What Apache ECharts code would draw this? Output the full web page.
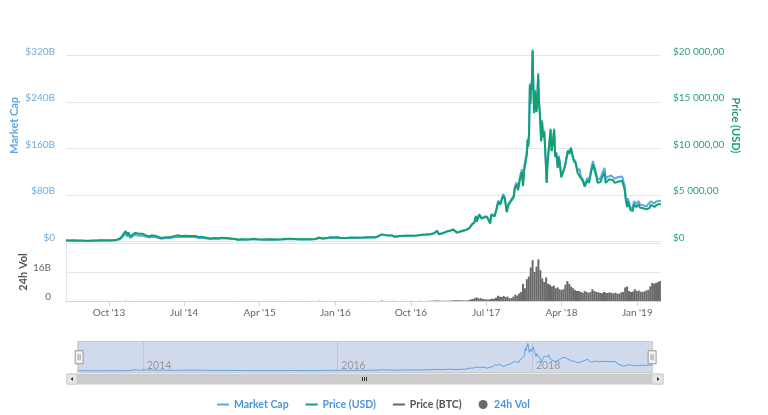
<!DOCTYPE html>
<html>
<head>
<meta charset="utf-8">
<script src="https://cdn.jsdelivr.net/npm/echarts@6/dist/echarts.min.js"></script>
<style>
  html, body { margin: 0; padding: 0; background: #ffffff; }
  #chart { width: 768px; height: 415px; }
</style>
</head>
<body>
<div id="chart"></div>
<script>
// ---- Data ----
const dates = [
 '2013-04-28','2013-05-12','2013-05-26','2013-06-09','2013-06-23','2013-07-06','2013-07-20','2013-08-04','2013-08-18','2013-09-01',
 '2013-09-15','2013-10-01','2013-10-15','2013-10-29','2013-11-10','2013-11-18','2013-11-24','2013-11-30','2013-12-04','2013-12-07',
 '2013-12-10','2013-12-18','2013-12-26','2014-01-05','2014-01-18','2014-02-01','2014-02-10','2014-02-25','2014-03-05','2014-03-20',
 '2014-04-02','2014-04-10','2014-04-25','2014-05-10','2014-05-25','2014-06-05','2014-06-20','2014-07-05','2014-07-25','2014-08-10',
 '2014-08-20','2014-09-05','2014-09-20','2014-10-05','2014-10-20','2014-11-05','2014-11-15','2014-12-01','2014-12-20','2015-01-05',
 '2015-01-14','2015-01-25','2015-02-10','2015-02-25','2015-03-10','2015-03-25','2015-04-15','2015-05-05','2015-06-01','2015-06-20',
 '2015-07-10','2015-07-25','2015-08-20','2015-09-10','2015-10-01','2015-10-20','2015-11-04','2015-11-12','2015-12-01','2015-12-15',
 '2015-12-25','2016-01-10','2016-01-20','2016-02-10','2016-02-25','2016-03-15','2016-04-10','2016-05-01','2016-05-25','2016-06-05',
 '2016-06-17','2016-06-23','2016-07-05','2016-07-25','2016-08-02','2016-08-20','2016-09-10','2016-10-05','2016-10-25','2016-11-10',
 '2016-11-25','2016-12-10','2016-12-25','2017-01-04','2017-01-11','2017-01-25','2017-02-08','2017-02-23','2017-03-03','2017-03-10',
 '2017-03-18','2017-03-25','2017-04-05','2017-04-20','2017-05-01','2017-05-10','2017-05-20','2017-05-25','2017-05-28','2017-06-06',
 '2017-06-11','2017-06-15','2017-06-25','2017-07-05','2017-07-16','2017-07-20','2017-08-01','2017-08-08','2017-08-14','2017-08-22',
 '2017-09-01','2017-09-07','2017-09-14','2017-09-20','2017-09-30','2017-10-10','2017-10-13','2017-10-20','2017-10-25','2017-11-01',
 '2017-11-08','2017-11-12','2017-11-17','2017-11-26','2017-11-29','2017-12-01','2017-12-04','2017-12-07','2017-12-09','2017-12-11',
 '2017-12-13','2017-12-15','2017-12-17','2017-12-19','2017-12-22','2017-12-24','2017-12-26','2017-12-29','2017-12-31','2018-01-03',
 '2018-01-06','2018-01-09','2018-01-12','2018-01-15','2018-01-17','2018-01-20','2018-01-24','2018-01-28','2018-01-31','2018-02-02',
 '2018-02-06','2018-02-09','2018-02-13','2018-02-17','2018-02-20','2018-02-24','2018-02-28','2018-03-05','2018-03-09','2018-03-13',
 '2018-03-18','2018-03-21','2018-03-25','2018-03-31','2018-04-06','2018-04-12','2018-04-17','2018-04-24','2018-04-29','2018-05-05',
 '2018-05-10','2018-05-15','2018-05-22','2018-05-29','2018-06-05','2018-06-10','2018-06-17','2018-06-24','2018-06-29','2018-07-04',
 '2018-07-10','2018-07-17','2018-07-24','2018-07-30','2018-08-05','2018-08-10','2018-08-14','2018-08-20','2018-08-28','2018-09-04',
 '2018-09-08','2018-09-14','2018-09-21','2018-09-28','2018-10-05','2018-10-11','2018-10-18','2018-10-25','2018-11-01','2018-11-07',
 '2018-11-13','2018-11-16','2018-11-20','2018-11-25','2018-11-28','2018-12-02','2018-12-07','2018-12-11','2018-12-15','2018-12-20',
 '2018-12-24','2018-12-28','2019-01-06','2019-01-10','2019-01-16','2019-01-22','2019-01-28','2019-02-03','2019-02-08','2019-02-15',
 '2019-02-19','2019-02-24','2019-02-26','2019-03-04','2019-03-10','2019-03-16','2019-03-22','2019-03-28'
];
const priceUSD = [
 135,115,132,108,105,70,90,105,100,140,
 128,124,142,198,325,600,790,1130,1151,700,
 990,520,760,930,830,830,690,540,670,590,
 450,380,470,450,580,660,595,630,600,590,
 480,480,410,320,385,340,415,375,320,275,
 180,255,220,240,295,250,220,240,225,245,
 285,290,235,240,238,270,430,330,365,460,
 425,450,380,375,425,415,420,450,450,580,
 765,590,670,655,520,580,625,610,655,715,
 740,775,895,1150,780,895,1060,1180,1280,1120,
 950,935,1130,1240,1420,1800,2040,2700,2130,2860,
 3000,2450,2600,2600,1930,2850,2720,3450,4250,3980,
 4920,4600,3150,3900,4350,4800,5650,6100,5500,6700,
 7450,5950,7800,9300,10900,10200,11600,16800,14800,16700,
 16300,17800,20500,17500,13800,14600,16100,14400,13900,15400,
 17900,14900,13800,13700,10750,12900,11200,11800,10200,8900,
 6300,8400,8600,11000,12000,9700,10500,12000,9100,9500,
 7900,9100,8600,6900,6700,7900,8100,9700,9400,10000,
 9300,8700,8400,7400,7600,6800,6500,5900,5900,6600,
 6300,7400,8300,8200,7000,6300,6100,6400,7000,7400,
 6300,6500,6700,6600,6600,6300,6500,6450,6400,6500,
 6350,5600,4500,3700,4300,4150,3400,3500,3250,4000,
 4100,3700,4000,3650,3650,3580,3450,3450,3650,3620,
 3950,4100,3820,3720,3930,4000,3990,4010
];
const marketCapB = [
 1.50,1.28,1.47,1.21,1.18,0.79,1.02,1.20,1.15,1.61,
 1.48,1.44,1.66,2.33,3.85,7.13,9.42,13.51,13.79,8.40,
 11.89,6.26,9.17,11.26,10.08,10.12,8.43,6.64,8.25,7.29,
 5.58,4.72,5.86,5.64,7.30,8.34,7.56,8.03,7.69,7.59,
 6.19,6.22,5.34,4.18,5.05,4.48,5.49,4.98,4.27,3.69,
 2.42,3.44,2.98,3.27,4.04,3.44,3.04,3.34,3.15,3.45,
 4.03,4.12,3.37,3.46,3.45,3.94,6.29,4.84,5.38,6.81,
 6.30,6.70,5.67,5.62,6.39,6.28,6.39,6.88,6.92,8.94,
 11.81,9.12,10.42,10.25,8.15,9.12,9.87,9.69,10.46,11.45,
 11.89,12.49,14.46,18.60,12.62,14.50,17.20,19.17,20.82,18.23,
 15.48,15.25,18.45,20.28,23.26,29.52,33.49,44.35,35.00,47.04,
 49.37,40.33,42.84,42.89,31.87,47.09,44.98,57.10,70.37,65.95,
 81.62,76.35,52.32,64.81,72.35,79.92,94.10,101.67,91.73,111.84,
 124.46,99.43,130.41,155.66,176.6,165.2,187.9,272.2,239.8,270.5,
 264.1,288.4,330.5,283.5,223.6,236.5,260.8,233.3,225.2,249.5,
 290.0,241.4,223.6,221.9,174.2,209.0,181.4,191.2,165.2,144.2,
 102.1,136.1,139.3,178.2,194.4,157.1,170.1,194.4,147.4,153.9,
 128.0,147.4,139.3,111.8,108.5,128.0,131.2,157.1,152.3,162.0,
 151.6,141.8,137.8,121.4,125.4,112.2,107.3,97.4,97.4,109.6,
 104.6,123.6,138.6,137.8,117.6,106.5,103.1,108.8,119.0,126.5,
 107.7,111.2,114.6,113.5,113.5,108.4,111.8,110.9,110.1,111.8,
 109.2,96.3,77.9,64.0,74.4,71.8,59.0,60.7,56.4,69.4,
 71.1,64.2,69.6,63.5,63.5,62.3,60.0,60.1,63.6,63.1,
 68.9,71.6,66.7,65.0,68.7,69.9,69.8,70.2
];
const volDates = [
 '2013-05-01','2013-07-01','2013-09-01','2013-11-01','2013-12-01','2014-01-01','2014-03-01','2014-06-01','2014-09-01','2014-12-01',
 '2015-01-15','2015-04-01','2015-07-01','2015-10-01','2015-11-04','2016-01-01','2016-04-01','2016-06-17','2016-08-01','2016-10-01',
 '2016-11-01','2016-12-04','2016-12-11','2016-12-18','2016-12-25','2017-01-01','2017-01-08','2017-01-15','2017-01-22','2017-01-29',
 '2017-02-05','2017-02-12','2017-02-19','2017-02-26','2017-03-05','2017-03-12','2017-03-19','2017-03-26','2017-04-02','2017-04-09',
 '2017-04-16','2017-04-23','2017-04-30','2017-05-07','2017-05-14','2017-05-21','2017-05-28','2017-06-04','2017-06-11','2017-06-18',
 '2017-06-25','2017-07-02','2017-07-09','2017-07-16','2017-07-23','2017-07-30','2017-08-06','2017-08-13','2017-08-20','2017-08-27',
 '2017-09-03','2017-09-10','2017-09-17','2017-09-24','2017-10-01','2017-10-08','2017-10-15','2017-10-22','2017-10-29','2017-11-05',
 '2017-11-12','2017-11-19','2017-11-26','2017-12-03','2017-12-10','2017-12-17','2017-12-24','2017-12-31','2018-01-07','2018-01-14',
 '2018-01-21','2018-01-28','2018-02-04','2018-02-11','2018-02-18','2018-02-25','2018-03-04','2018-03-11','2018-03-18','2018-03-25',
 '2018-04-01','2018-04-08','2018-04-15','2018-04-22','2018-04-29','2018-05-06','2018-05-13','2018-05-20','2018-05-27','2018-06-03',
 '2018-06-10','2018-06-17','2018-06-24','2018-07-01','2018-07-08','2018-07-15','2018-07-22','2018-07-29','2018-08-05','2018-08-12',
 '2018-08-19','2018-08-26','2018-09-02','2018-09-09','2018-09-16','2018-09-23','2018-09-30','2018-10-07','2018-10-14','2018-10-21',
 '2018-10-28','2018-11-04','2018-11-11','2018-11-18','2018-11-25','2018-12-02','2018-12-09','2018-12-16','2018-12-23','2018-12-30',
 '2019-01-06','2019-01-13','2019-01-20','2019-01-27','2019-02-03','2019-02-10','2019-02-17','2019-02-24','2019-03-03','2019-03-10',
 '2019-03-17','2019-03-24'
];
const volumeB = [
 0.02,0.01,0.01,0.05,0.15,0.05,0.03,0.02,0.02,0.02,
 0.05,0.02,0.03,0.03,0.15,0.05,0.05,0.3,0.1,0.07,
 0.1,0.12,0.1,0.15,0.2,0.35,0.3,0.15,0.12,0.1,
 0.15,0.13,0.2,0.25,0.4,0.35,0.5,0.3,0.35,0.3,
 0.25,0.3,0.45,0.9,1.1,1.6,2.0,1.4,1.6,1.2,
 1.0,0.9,0.8,1.0,1.3,1.2,1.8,2.9,2.4,2.2,
 2.8,2.2,2.4,1.5,1.6,2.4,3.5,3.0,4.2,5.0,
 9.5,7.0,12.0,13.5,18.5,22.5,16.0,19.0,23.0,17.0,
 12.5,10.5,13.0,9.5,9.0,8.0,8.5,7.0,7.5,6.5,
 6.0,6.5,9.0,11.0,9.5,8.0,7.0,6.0,5.5,5.5,
 5.0,4.5,5.5,5.0,4.5,5.0,6.5,5.5,5.0,4.8,
 4.5,4.3,5.0,4.6,4.4,4.8,4.4,4.2,4.6,4.0,
 4.1,4.8,5.0,7.5,8.0,5.5,5.0,5.2,6.5,5.5,
 5.8,5.2,5.0,5.3,5.8,6.2,8.0,10.0,9.5,10.0,
 10.5,11.0
];
const xTickDates = ['2013-10-01','2014-07-01','2015-04-01','2016-01-01','2016-10-01','2017-07-01','2018-04-01','2019-01-01'];
const xTickLabels = ["Oct '13","Jul '14","Apr '15","Jan '16","Oct '16","Jul '17","Apr '18","Jan '19"];
const navTickDates = ['2014-01-01','2016-01-01','2018-01-01'];
const navTickLabels = ['2014','2016','2018'];
const legendNames = ['Market Cap','Price (USD)','Price (BTC)','24h Vol'];
const xStart = '2013-04-28';
const xEnd = '2019-03-28';

// ---- Helpers ----
function ts(s) { const p = s.split('-').map(Number); return Date.UTC(p[0], p[1] - 1, p[2]); }
function pairs(d, v) { return d.map((x, i) => [ts(x), v[i]]); }
const xTickTs = xTickDates.map(ts);
const navTickTs = navTickDates.map(ts);
const xLabelMap = {}; xTickTs.forEach((t, i) => { xLabelMap[t] = xTickLabels[i]; });
const navLabelMap = {}; navTickTs.forEach((t, i) => { navLabelMap[t] = navTickLabels[i]; });
function usd(v) {
  if (v === 0) return '$0';
  const s = String(Math.round(v)).replace(/\B(?=(\d{3})+(?!\d))/g, ' ');
  return '$' + s + ',00';
}

const BLUE = '#5ea8e8';
const GREEN = '#12a073';
const GRAY_BAR = '#6a6a6a';
const FONT = 'Lato';

const chart = echarts.init(document.getElementById('chart'), null, { renderer: 'canvas' });
const linePath = 'path://M0,0 H12 V2 H0 Z';

chart.setOption({
  animation: false,
  textStyle: { fontFamily: FONT },
  grid: [
    { left: 66, right: 107, top: 55.5, height: 186 },
    { left: 66, right: 107, top: 243, height: 58 },
    { left: 77, right: 116, top: 341, height: 31.5, show: true, backgroundColor: '#d1daed', borderWidth: 0 }
  ],
  xAxis: [
    { type: 'value', gridIndex: 0, min: ts(xStart), max: ts(xEnd), show: false, splitLine: { show: false } },
    { type: 'value', gridIndex: 1, min: ts(xStart), max: ts(xEnd),
      axisLine: { show: true, lineStyle: { color: '#ccd6eb' } },
      axisTick: { show: true, customValues: xTickTs, length: 5, lineStyle: { color: '#ccd6eb' } },
      axisLabel: { customValues: xTickTs, formatter: v => xLabelMap[v] || '', color: '#666', fontSize: 10, margin: 7, fontFamily: FONT },
      splitLine: { show: false } },
    { type: 'value', gridIndex: 2, min: ts(xStart), max: ts(xEnd),
      axisLine: { show: false },
      axisTick: { show: false, customValues: navTickTs },
      axisLabel: { customValues: navTickTs, inside: true, formatter: v => navLabelMap[v] || '', color: '#999', fontSize: 10.5,
                   align: 'left', padding: [0, 0, 0, 4], margin: 1, fontFamily: FONT },
      splitLine: { show: true, lineStyle: { color: '#bcc6da', width: 1 } } }
  ],
  yAxis: [
    { type: 'value', gridIndex: 0, position: 'left', min: 0, max: 320, interval: 80,
      name: 'Market Cap', nameLocation: 'middle', nameRotate: 90, nameGap: 46, nameMoveOverlap: false,
      nameTextStyle: { color: '#5aa6e6', fontWeight: 'bold', fontSize: 11, fontFamily: FONT, padding: [0, 0, 0, 46] },
      axisLine: { show: false }, axisTick: { show: false },
      axisLabel: { formatter: v => v === 0 ? '$0' : '$' + v + 'B', color: '#6aaee8', fontSize: 10, margin: 11,
                   verticalAlign: 'bottom', lineHeight: 8, fontFamily: FONT },
      splitLine: { lineStyle: { color: '#e6e6e6' } } },
    { type: 'value', gridIndex: 0, position: 'right', min: 0, max: 20000, interval: 5000,
      name: 'Price (USD)', nameLocation: 'middle', nameRotate: -90, nameGap: 69, nameMoveOverlap: false,
      nameTextStyle: { color: '#16a074', fontWeight: 'bold', fontSize: 11, fontFamily: FONT, padding: [0, 46, 0, 0] },
      axisLine: { show: false }, axisTick: { show: false },
      axisLabel: { formatter: usd, color: '#22a57b', fontSize: 10, margin: 12, verticalAlign: 'bottom', lineHeight: 8, fontFamily: FONT },
      splitLine: { show: false } },
    { type: 'value', gridIndex: 1, position: 'left', min: 0, max: 32, interval: 16,
      name: '24h Vol', nameLocation: 'middle', nameRotate: 90, nameGap: 37, nameMoveOverlap: false,
      nameTextStyle: { color: '#555', fontWeight: 'bold', fontSize: 11, fontFamily: FONT },
      axisLine: { show: true, lineStyle: { color: '#e6e6e6' } }, axisTick: { show: false },
      axisLabel: { formatter: v => v === 0 ? '0' : v + 'B', showMaxLabel: false, color: '#666', fontSize: 10, margin: 15,
                   verticalAlign: 'bottom', lineHeight: 8, fontFamily: FONT },
      splitLine: { lineStyle: { color: '#e6e6e6' } } },
    { type: 'value', gridIndex: 2, min: -20, max: 360, show: false, splitLine: { show: false } }
  ],
  dataZoom: [
    { type: 'slider', xAxisIndex: 2, filterMode: 'none', start: 0, end: 100,
      left: 77, right: 116, top: 341, height: 31.5,
      showDataShadow: false, showDetail: false, brushSelect: false, moveHandleSize: 0,
      backgroundColor: 'rgba(0,0,0,0)', fillerColor: 'rgba(0,0,0,0)', borderColor: '#cccccc',
      handleIcon: 'path://M0,0 H8 V13 H0 Z M3,3.5 V9.5 M5,3.5 V9.5', handleSize: 13,
      handleStyle: { color: '#f2f2f2', borderColor: '#999999', borderWidth: 1 },
      moveHandleStyle: { opacity: 0 },
      emphasis: { handleStyle: { color: '#f2f2f2', borderColor: '#999999' } } }
  ],
  legend: {
    left: 212, top: 394, itemWidth: 12, itemHeight: 9, itemGap: 17,
    textStyle: { fontFamily: FONT, fontSize: 10.5, fontWeight: 'bold', color: '#4d94db' },
    data: [
      { name: legendNames[0], icon: linePath, itemStyle: { color: BLUE } },
      { name: legendNames[1], icon: linePath, itemStyle: { color: GREEN } },
      { name: legendNames[2], icon: linePath, itemStyle: { color: '#666' }, textStyle: { color: '#555' } },
      { name: legendNames[3], icon: 'circle', itemStyle: { color: GRAY_BAR } }
    ]
  },
  series: [
    { name: legendNames[0], type: 'line', xAxisIndex: 0, yAxisIndex: 0, data: pairs(dates, marketCapB), clip: false,
      symbol: 'none', lineStyle: { color: BLUE, width: 2 }, itemStyle: { color: BLUE }, z: 2 },
    { name: legendNames[1], type: 'line', xAxisIndex: 0, yAxisIndex: 1, data: pairs(dates, priceUSD), clip: false,
      symbol: 'none', lineStyle: { color: GREEN, width: 2 }, itemStyle: { color: GREEN }, z: 3 },
    { name: legendNames[2], type: 'line', xAxisIndex: 0, yAxisIndex: 1, data: [],
      symbol: 'none', lineStyle: { color: '#666', width: 2 }, itemStyle: { color: '#666' } },
    { name: legendNames[3], type: 'bar', xAxisIndex: 1, yAxisIndex: 2, data: pairs(volDates, volumeB),
      barWidth: 2, itemStyle: { color: GRAY_BAR } },
    { name: 'Navigator', type: 'line', xAxisIndex: 2, yAxisIndex: 3, data: pairs(dates, marketCapB),
      symbol: 'none', silent: true, lineStyle: { color: '#5aa2e2', width: 1 } }
  ],
  graphic: [
    { type: 'rect', shape: { x: 67, y: 374, width: 596, height: 10 }, style: { fill: '#f2f2f2', stroke: '#cccccc' }, silent: true },
    { type: 'rect', shape: { x: 77, y: 374, width: 575, height: 10 }, style: { fill: '#cccccc' }, silent: true },
    { type: 'rect', shape: { x: 67, y: 374, width: 10, height: 10 }, style: { fill: '#e6e6e6', stroke: '#cccccc' }, silent: true },
    { type: 'rect', shape: { x: 652, y: 374, width: 11, height: 10 }, style: { fill: '#e6e6e6', stroke: '#cccccc' }, silent: true },
    { type: 'polygon', shape: { points: [[70.5, 379], [73, 377], [73, 381]] }, style: { fill: '#333' }, silent: true },
    { type: 'polygon', shape: { points: [[659.5, 379], [657, 377], [657, 381]] }, style: { fill: '#333' }, silent: true },
    { type: 'line', shape: { x1: 362.5, y1: 377, x2: 362.5, y2: 381 }, style: { stroke: '#333', lineWidth: 1 }, silent: true },
    { type: 'line', shape: { x1: 364.5, y1: 377, x2: 364.5, y2: 381 }, style: { stroke: '#333', lineWidth: 1 }, silent: true },
    { type: 'line', shape: { x1: 366.5, y1: 377, x2: 366.5, y2: 381 }, style: { stroke: '#333', lineWidth: 1 }, silent: true }
  ]
});
</script>
</body>
</html>
